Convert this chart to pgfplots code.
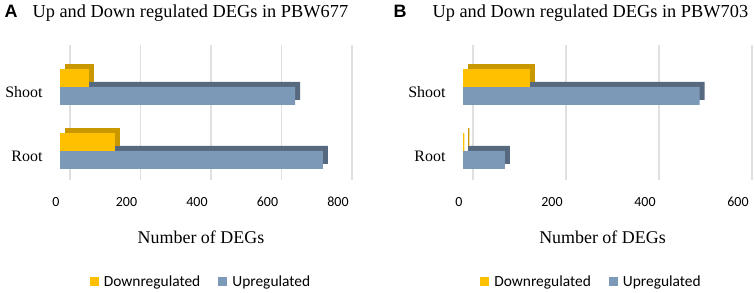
\documentclass[border=0pt]{standalone}
\usepackage{fontspec}
\setmainfont{Liberation Serif}
\newfontfamily\calfont{Carlito}
\newfontfamily\hvfont{Liberation Sans}
\usepackage{pgfplots}
\pgfplotsset{compat=1.18}
\definecolor{yel}{HTML}{FFC000}
\definecolor{yeld}{HTML}{C99700}
\definecolor{blu}{HTML}{7C99B7}
\definecolor{blud}{HTML}{56697F}
\definecolor{grd}{HTML}{E0E0E0}
\pgfplotsset{panel/.style={
 scale only axis, xbar, height=134.4bp, ymin=-0.45, ymax=1.65, xmin=0,
 ytick={0,1}, yticklabels={Root,Shoot},
 axis line style={draw=none}, major tick length=0pt,
 xmajorgrids, grid style={grd, line width=1.2pt, xshift=10bp},
 bar width=0.28,
 y tick label style={font=\rmfamily\fontsize{16}{18}\selectfont, xshift=-14bp, yshift=-5bp},
 x tick label style={font=\calfont\fontsize{14}{16}\selectfont, yshift=-14bp, xshift=-4bp},
 /pgf/number format/assume math mode=true,
 xlabel={Number of DEGs},
 xlabel style={font=\rmfamily\fontsize{18}{20}\selectfont, at={(rel axis cs:0.5,0)}, anchor=center, yshift=-57bp},
 legend style={draw=none, legend columns=2, font=\calfont\fontsize{15.5}{17}\selectfont,
   at={(rel axis cs:0.5,0)}, anchor=center, yshift=-102bp,
   /tikz/every odd column/.append style={column sep=3bp},
   /tikz/every even column/.append style={column sep=16bp}},
 reverse legend=true,
 legend image code/.code={\fill[#1] (0bp,-4.5bp) rectangle (9bp,4.5bp);},
}}
\begin{document}
\begin{tikzpicture}
\useasboundingbox (0,0) rectangle (754bp,293bp);
\node[font=\hvfont\bfseries\fontsize{18}{20}\selectfont] at (11bp,282bp) {A};
\node[font=\rmfamily\fontsize{18.4}{21}\selectfont, anchor=west] at (29bp,280bp) {Up and Down regulated DEGs in PBW677};
\node[font=\hvfont\bfseries\fontsize{18}{20}\selectfont] at (400bp,282bp) {B};
\node[font=\rmfamily\fontsize{18.4}{21}\selectfont, anchor=west] at (429bp,280bp) {Up and Down regulated DEGs in PBW703};
\begin{axis}[panel, at={(60bp,113.2bp)}, anchor=south west, width=282bp, xmax=800, xtick={0,200,...,800}]
\addplot[fill=blud, draw=none, bar shift=-0.14, xshift=5bp, yshift=5bp, forget plot] coordinates {(746,0) (667,1)};
\addplot[fill=blu, draw=none, bar shift=-0.14] coordinates {(746,0) (667,1)};
\addlegendentry{Upregulated}
\addplot[fill=yeld, draw=none, bar shift=0.14, xshift=5bp, yshift=5bp, forget plot] coordinates {(156,0) (82,1)};
\addplot[fill=yel, draw=none, bar shift=0.14] coordinates {(156,0) (82,1)};
\addlegendentry{Downregulated}
\end{axis}
\begin{axis}[panel, at={(463bp,113.2bp)}, anchor=south west, width=279bp, xmax=600, xtick={0,200,...,600},
  legend style={xshift=-11bp}]
\addplot[fill=blud, draw=none, bar shift=-0.14, xshift=5bp, yshift=5bp, forget plot] coordinates {(90,0) (509,1)};
\addplot[fill=blu, draw=none, bar shift=-0.14] coordinates {(90,0) (509,1)};
\addlegendentry{Upregulated}
\addplot[fill=yeld, draw=none, bar shift=0.14, xshift=5bp, yshift=5bp, forget plot] coordinates {(3,0) (144,1)};
\addplot[fill=yel, draw=none, bar shift=0.14] coordinates {(3,0) (144,1)};
\addlegendentry{Downregulated}
\end{axis}
\end{tikzpicture}
\end{document}
